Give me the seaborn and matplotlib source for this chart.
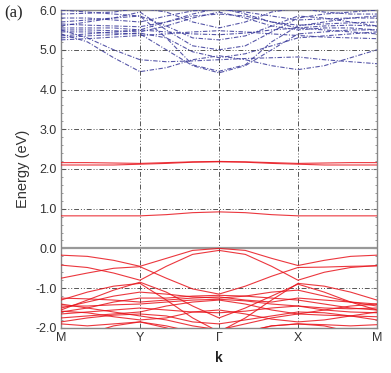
import numpy as np
import pandas as pd
import matplotlib
matplotlib.use('Agg')
import matplotlib.pyplot as plt
import seaborn as sns
from matplotlib.ticker import MultipleLocator, FormatStrFormatter

# high-symmetry path, each segment sampled at thirds
k_labels = ['M', 'Y', 'Γ', 'X', 'M']
k_points = np.arange(13) / 3.0

valence_bands = [
    [-0.17, -0.20, -0.30, -0.45, -0.25, -0.05, 0.00, -0.05, -0.25, -0.43, -0.30, -0.20, -0.17],
    [-0.42, -0.48, -0.62, -0.80, -0.45, -0.15, -0.05, -0.15, -0.45, -0.80, -0.60, -0.48, -0.43],
    [-0.75, -0.62, -0.50, -0.46, -0.75, -1.02, -1.15, -0.95, -0.70, -0.48, -0.47, -0.45, -0.44],
    [-1.55, -1.30, -1.05, -0.85, -1.10, -1.45, -1.75, -1.50, -1.20, -0.90, -1.10, -1.35, -1.55],
    [-1.50, -1.35, -1.20, -1.10, -1.15, -1.22, -1.25, -1.20, -1.10, -1.05, -1.20, -1.35, -1.45],
    [-1.60, -1.50, -1.35, -1.25, -1.25, -1.20, -1.18, -1.20, -1.25, -1.30, -1.40, -1.50, -1.55],
    [-1.45, -1.45, -1.42, -1.40, -1.35, -1.30, -1.28, -1.32, -1.40, -1.45, -1.50, -1.52, -1.50],
    [-1.65, -1.60, -1.55, -1.50, -1.55, -1.60, -1.62, -1.58, -1.50, -1.45, -1.55, -1.60, -1.62],
    [-1.75, -1.70, -1.65, -1.60, -1.45, -1.35, -1.30, -1.40, -1.55, -1.65, -1.68, -1.70, -1.72],
    [-1.85, -1.75, -1.68, -1.65, -1.70, -1.85, -1.90, -1.80, -1.70, -1.60, -1.62, -1.70, -1.80],
    [-1.58, -1.62, -1.72, -1.80, -1.75, -1.60, -1.55, -1.65, -1.78, -1.85, -1.80, -1.70, -1.60],
    [-1.90, -1.95, -1.90, -1.85, -1.95, -2.10, -2.20, -2.10, -1.95, -1.90, -1.92, -1.95, -1.92],
    [-2.40, -2.15, -1.95, -1.85, -2.00, -2.20, -2.30, -2.10, -1.95, -1.90, -1.95, -2.10, -2.30],
    [-1.30, -1.10, -0.95, -0.88, -1.30, -1.75, -2.10, -1.75, -1.30, -0.88, -0.95, -1.10, -1.30],
    [-1.40, -1.50, -1.60, -1.70, -1.80, -1.95, -2.05, -1.90, -1.75, -1.65, -1.55, -1.45, -1.40],
    [-1.25, -1.27, -1.30, -1.35, -1.30, -1.25, -1.22, -1.30, -1.35, -1.25, -1.30, -1.35, -1.40],
]

gap_bands = [
    [0.82, 0.82, 0.82, 0.82, 0.85, 0.90, 0.92, 0.90, 0.85, 0.82, 0.82, 0.82, 0.82],
    [2.16, 2.16, 2.15, 2.14, 2.16, 2.18, 2.19, 2.18, 2.16, 2.14, 2.15, 2.16, 2.16],
    [2.10, 2.10, 2.10, 2.12, 2.14, 2.17, 2.18, 2.17, 2.14, 2.12, 2.10, 2.10, 2.10],
]

conduction_bands = [
    [5.40, 5.20, 4.80, 4.45, 4.55, 4.75, 4.85, 4.75, 4.60, 4.50, 4.60, 4.80, 5.00],
    [5.45, 5.45, 5.42, 5.40, 5.00, 4.60, 4.42, 4.60, 5.00, 5.40, 5.45, 5.50, 5.50],
    [5.50, 5.30, 5.00, 4.75, 4.70, 4.72, 4.75, 4.78, 4.80, 4.82, 4.75, 4.70, 4.65],
    [6.00, 5.95, 5.90, 5.85, 5.30, 4.62, 4.46, 4.62, 5.20, 5.60, 5.70, 5.80, 5.85],
    [5.60, 5.70, 5.80, 5.95, 5.50, 5.10, 5.00, 5.10, 5.45, 5.80, 5.90, 5.95, 6.00],
    [5.70, 5.75, 5.80, 5.85, 5.60, 5.30, 5.25, 5.35, 5.60, 5.85, 5.80, 5.70, 5.60],
    [5.30, 5.35, 5.38, 5.42, 5.30, 4.95, 4.80, 4.90, 5.10, 5.30, 5.35, 5.40, 5.45],
    [5.50, 5.50, 5.48, 5.45, 5.60, 5.80, 5.95, 5.80, 5.60, 5.50, 5.55, 5.55, 5.50],
    [5.55, 5.55, 5.55, 5.50, 5.70, 5.90, 6.05, 5.90, 5.70, 5.55, 5.60, 5.62, 5.60],
    [5.80, 5.80, 5.75, 5.70, 5.85, 5.98, 6.02, 5.95, 5.85, 5.75, 5.78, 5.80, 5.80],
    [5.90, 5.92, 5.95, 6.05, 5.95, 5.70, 5.55, 5.70, 5.95, 6.05, 5.95, 5.90, 5.90],
    [5.35, 5.40, 5.45, 5.50, 5.45, 5.40, 5.38, 5.42, 5.50, 5.55, 5.50, 5.45, 5.40],
    [5.25, 5.28, 5.32, 5.36, 5.40, 5.45, 5.48, 5.45, 5.40, 5.36, 5.32, 5.30, 5.28],
    [5.65, 5.62, 5.60, 5.58, 5.70, 5.85, 5.90, 5.85, 5.70, 5.62, 5.65, 5.68, 5.70],
]


def to_frame(bands):
    rows = []
    for i, b in enumerate(bands):
        for k, e in zip(k_points, b):
            rows.append((i, k, e))
    return pd.DataFrame(rows, columns=['band', 'k', 'E'])


sns.set_style('ticks')
plt.rcParams['font.family'] = ['Liberation Sans', 'DejaVu Sans']

fig = plt.figure(figsize=(3.91, 3.73), dpi=100)
ax = fig.add_axes([0.156, 0.121, 0.808, 0.852])

grid_kw = dict(color='#555555', linestyle=(0, (5, 2, 1, 2, 1, 2)), linewidth=0.7)
for e in [-1, 1, 2, 3, 4, 5]:
    ax.axhline(e, zorder=1, **grid_kw)
for k in [1, 2, 3]:
    ax.axvline(k, zorder=1, **grid_kw)
ax.axhline(0, color='#999999', linewidth=1.6, zorder=1)

sns.lineplot(data=to_frame(valence_bands), x='k', y='E', units='band', estimator=None,
             color='#e8141c', linewidth=0.8, alpha=0.85, ax=ax, zorder=3)
sns.lineplot(data=to_frame(gap_bands), x='k', y='E', units='band', estimator=None,
             color='#e8141c', linewidth=0.8, alpha=0.85, ax=ax, zorder=3)
sns.lineplot(data=to_frame(conduction_bands), x='k', y='E', units='band', estimator=None,
             color='#3a3a9a', linewidth=0.8, alpha=0.85, linestyle=(0, (4, 1.5, 1, 1.5)),
             ax=ax, zorder=3)

ax.set_xlim(0, 4)
ax.set_ylim(-2, 6)
ax.set_xticks(range(5))
ax.set_xticklabels(k_labels, fontsize=9, color='#333333')
ax.yaxis.set_major_locator(MultipleLocator(1.0))
ax.yaxis.set_minor_locator(MultipleLocator(0.2))
ax.yaxis.set_major_formatter(FormatStrFormatter('%.1f'))
ax.tick_params(axis='y', labelsize=9, labelcolor='#333333', direction='in', right=True,
               length=3, color='#888888', pad=3)
ax.tick_params(axis='y', which='minor', direction='in', right=True, length=1.5, color='#888888')
ax.tick_params(axis='x', length=0, pad=3)
for s in ax.spines.values():
    s.set_visible(True)
    s.set_color('#888888')
    s.set_linewidth(1.0)

ax.set_xlabel('k', fontsize=10, fontweight='bold', labelpad=5, color='#222222')
ax.set_ylabel('Energy (eV)', fontsize=10.5, labelpad=4, color='#333333')
fig.text(0.012, 0.963, '(a)', fontsize=12, family=['Liberation Serif'], va='center')

fig.savefig('out.png', dpi=100)
